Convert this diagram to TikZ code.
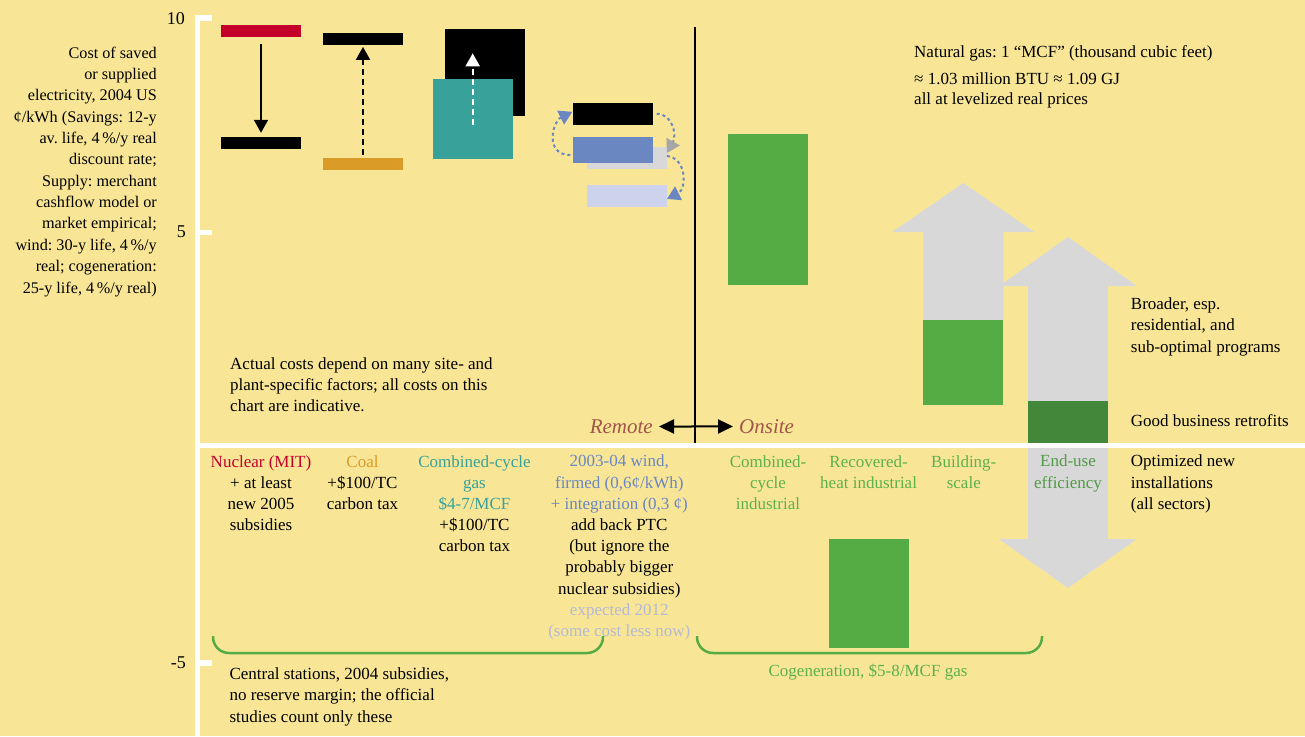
\documentclass[tikz,border=0pt]{standalone}
\usepackage{fontspec}
\setmainfont{Liberation Serif}
\usetikzlibrary{arrows.meta}

\definecolor{bgyellow}{RGB}{248,230,150}
\definecolor{nucred}{RGB}{196,0,42}
\definecolor{coalorange}{RGB}{218,155,39}
\definecolor{gasteal}{RGB}{55,161,154}
\definecolor{windblue}{RGB}{106,135,194}
\definecolor{windgray}{RGB}{216,216,216}
\definecolor{windlav}{RGB}{205,211,236}
\definecolor{paletext}{RGB}{180,185,214}
\definecolor{cogreen}{RGB}{85,171,68}
\definecolor{darkgreen}{RGB}{67,136,58}
\definecolor{greentext}{RGB}{93,176,76}
\definecolor{endusetext}{RGB}{81,154,71}
\definecolor{arrowgray}{RGB}{216,216,216}
\definecolor{sidetext}{RGB}{161,85,74}

\newcommand\chartfont{\fontsize{17}{21.2}\selectfont\frenchspacing}
\newcommand\axisnotefont{\fontsize{16.2}{21.35}\selectfont\frenchspacing}
\newcommand\tickfont{\fontsize{18}{20}\selectfont}
\newcommand\sidefont{\fontsize{21}{24}\selectfont\itshape}

% multi-line nodes are placed by the baseline of their last line
\tikzset{
  bar/.style={rectangle, inner sep=0pt, minimum width=80pt},
  txt/.style={inner sep=0pt, font=\chartfont},
  col/.style={txt, align=center, anchor=base},
  tick/.style={white, line width=5.5pt},
  dotlink/.style={windblue, line width=2pt, dash pattern=on 3pt off 3pt},
  bigtip/.style={-{Triangle[width=14pt, length=13pt]}},
}

\begin{document}
\begin{tikzpicture}[x=1pt, y=-1pt]
  % background
  \fill[bgyellow] (0,0) rectangle (1305,736);
  \useasboundingbox (0,0) rectangle (1305,736);

  % axis
  \draw[white, line width=5pt] (197.5,15.5) -- (197.5,736);
  \draw[tick] (195,18) -- (212,18);
  \draw[tick] (195,232.5) -- (212,232.5);
  \draw[tick] (195,663) -- (212,663);
  \node[font=\tickfont, inner sep=0pt, anchor=base east] (t10) at (185,24) {10};
  \node[font=\tickfont, inner sep=0pt, anchor=base east] (t5) at (186,237) {5};
  \node[font=\tickfont, inner sep=0pt, anchor=base east] (tm5) at (186,668) {-5};

  % remote bars
  \node[bar, fill=nucred, minimum height=12pt] (nucHi) at (261,31) {};
  \node[bar, fill=black, minimum height=12pt] (nucLo) at (261,143) {};
  \node[bar, fill=black, minimum height=12pt] (coalHi) at (363,39.3) {};
  \node[bar, fill=coalorange, minimum height=12pt] (coalLo) at (363,164) {};
  \node[bar, fill=black, minimum height=87pt] (gasHi) at (484.5,72.2) {};
  \node[bar, fill=gasteal, minimum height=80.7pt] (gasLo) at (472.7,119) {};
  \coordinate (gasTip) at (472.7,53.3);
  \node[bar, fill=black, minimum height=22.3pt] (windA) at (612.5,113.8) {};
  \node[bar, fill=windgray, minimum height=22.6pt] (windC) at (626.7,158) {};
  \node[bar, fill=windblue, minimum height=25.3pt] (windB) at (612.5,150) {};
  \node[bar, fill=windlav, minimum height=22.6pt] (windD) at (626.7,196) {};

  \draw[bigtip, line width=1.7pt, shorten <=6.4pt, shorten >=4pt] (nucHi.south) -- (nucLo.north);
  \draw[bigtip, line width=2pt, dash pattern=on 6pt off 4pt, shorten <=3pt, shorten >=1.4pt]
    (coalLo.north) -- (coalHi.south);
  \draw[bigtip, white, line width=2pt, dash pattern=on 6pt off 4pt] ([shift={(0,6)}]gasLo.center) -- (gasTip);

  % wind shifts
  \draw[dotlink, -{Triangle[width=15pt, length=13pt, color=windblue]}]
    ([shift={(-2,5)}]windB.west) .. controls +(-26,0) and +(-20,10) .. ([shift={(0,-2)}]windA.west);
  \draw[dotlink, -{Triangle[width=15pt, length=13pt, color=gray!70]}]
    ([shift={(4,0)}]windA.east) .. controls +(16,0) and +(10,-18) .. ([shift={(0,-5)}]windC.east);
  \draw[dotlink, -{Triangle[width=15pt, length=13pt, color=windblue]}]
    ([shift={(0,-2)}]windC.east) .. controls +(20,2) and +(20,-10) .. ([shift={(0,3)}]windD.east);

  % onsite bars and arrows
  \fill[cogreen] (728.3,134) rectangle (808.3,285);
  \fill[cogreen] (828.7,539) rectangle (908.7,648);
  \fill[arrowgray] (923.3,405) -- (923.3,232) -- (892.3,232) -- (963.3,183) -- (1034.3,232)
    -- (1003.3,232) -- (1003.3,405) -- cycle;
  \fill[cogreen] (923.3,320) rectangle (1003.3,405);
  \fill[arrowgray] (1028,286) -- (999,286) -- (1068,237) -- (1137,286) -- (1108,286) -- (1108,539)
    -- (1137,539) -- (1068,588) -- (999,539) -- (1028,539) -- cycle;
  \fill[darkgreen] (1028,401.3) rectangle (1108,445);

  % divider and zero line
  \draw[black, line width=2.5pt] (695,27) -- (695,443);
  \draw[white, line width=5pt] (197,445.8) -- (1305,445.8);

  \node[font=\sidefont, text=sidetext, inner sep=0pt, anchor=base east] (remote) at (653,433.3) {Remote};
  \node[font=\sidefont, text=sidetext, inner sep=0pt, anchor=base west] (onsite) at (739,433.3) {Onsite};
  \draw[{Triangle[width=14pt, length=15pt]}-{Triangle[width=14pt, length=15pt]}, line width=2pt,
    shorten <=6pt, shorten >=6pt] (remote.east) -- (onsite.west);

  % brackets
  \draw[cogreen, line width=2.5pt, rounded corners=16pt] (213,636) -- (213,653) -- (603,653) -- (603,636);
  \draw[cogreen, line width=2.5pt, rounded corners=16pt] (697,636) -- (697,653) -- (1042,653) -- (1042,636);

  % notes
  \node[txt, font=\axisnotefont, align=right, anchor=base east] (costnote) at (157,293) {Cost of saved\\ or supplied\\
    electricity, 2004 US\\ ¢/kWh (Savings: 12-y\\ av. life, 4\,\%/y real\\ discount rate;\\
    Supply: merchant\\ cashflow model or\\ market empirical;\\ wind: 30-y life, 4\,\%/y\\
    real; cogeneration:\\ 25-y life, 4\,\%/y real)};
  \node[txt, align=left, anchor=base west] (sitenote) at (230,411.8) {Actual costs depend on many site- and\\
    plant-specific factors; all costs on this\\ chart are indicative.};
  \node[txt, align=left, anchor=base west] (gasnote) at (914,104) {Natural gas: 1 “MCF” (thousand cubic feet)\\[5.4pt]
    ≈ 1.03 million BTU ≈ 1.09 GJ\\[-1.3pt] all at levelized real prices};
  \node[txt, align=left, anchor=base west] (broadnote) at (1130.7,352) {Broader, esp.\\ residential, and\\ sub-optimal programs};
  \node[txt, anchor=base west] (goodnote) at (1130.7,426.7) {Good business retrofits};
  \node[txt, align=left, anchor=base west] (optnote) at (1130.7,509.2) {Optimized new\\ installations\\ (all sectors)};
  \node[txt, align=left, anchor=base west] (centralnote) at (229.3,722) {Central stations, 2004 subsidies,\\
    no reserve margin; the official\\ studies count only these};
  \node[col, text=greentext] (cogennote) at (868,676.7) {Cogeneration, \$5-8/MCF gas};

  % column labels
  \node[col] (nuclbl) at (261,530.6) {\textcolor{nucred}{Nuclear (MIT)}\\ + at least\\ new 2005\\ subsidies};
  \node[col] (coallbl) at (362.5,509.4) {\textcolor{coalorange}{Coal}\\ +\$100/TC\\ carbon tax};
  \node[col] (gaslbl) at (474.5,551.8) {\textcolor{gasteal}{Combined-cycle}\\ \textcolor{gasteal}{gas}\\
    \textcolor{gasteal}{\$4-7/MCF}\\ +\$100/TC\\ carbon tax};
  \node[col] (windlbl) at (619.3,636.5) {\textcolor{windblue}{2003-04 wind,}\\ \textcolor{windblue}{firmed (0,6¢/kWh)}\\
    \textcolor{windblue}{+ integration (0,3 ¢)}\\ add back PTC\\ (but ignore the\\ probably bigger\\
    nuclear subsidies)\\ \textcolor{paletext}{expected 2012}\\ \textcolor{paletext}{(some cost less now)}};
  \node[col, text=greentext] (ccilbl) at (768,509.4) {Combined-\\ cycle\\ industrial};
  \node[col, text=greentext] (heatlbl) at (868.6,488.2) {Recovered-\\ heat industrial};
  \node[col, text=greentext] (bldglbl) at (963.8,488.2) {Building-\\ scale};
  \node[col, text=endusetext] (enduselbl) at (1068,488) {End-use\\ efficiency};

\end{tikzpicture}
\end{document}
